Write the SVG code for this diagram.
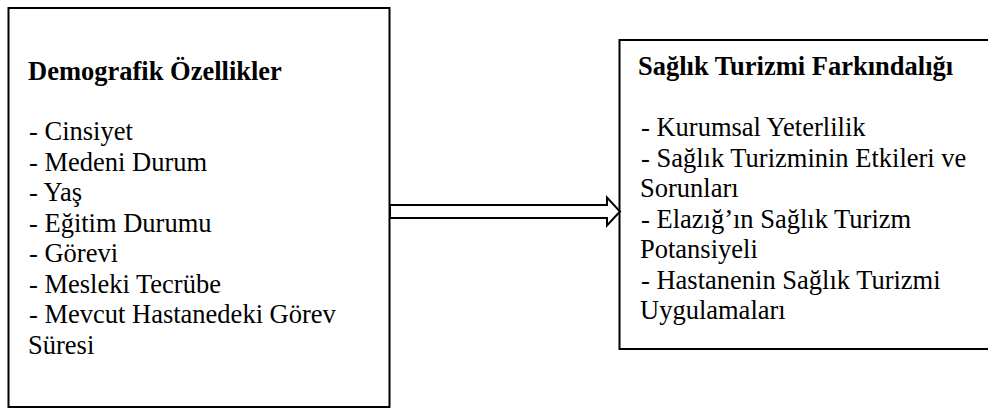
<svg xmlns="http://www.w3.org/2000/svg" width="988" height="411" viewBox="0 0 988 411">
<style>
.box{fill:#fff;stroke:#000;stroke-width:2}
.t{font-family:"Liberation Serif","Times New Roman",serif;font-size:26.5px;fill:#000}
.b{font-weight:bold}
.arrow{fill:#fff;stroke:#000;stroke-width:2;stroke-linejoin:miter}
</style>
<rect width="988" height="411" fill="#fff"/>
<g id="demografik">
<rect class="box" x="8.5" y="8" width="381" height="399"/>
<text class="t b" x="28" y="80">Demografik Özellikler</text>
<text class="t" x="29" y="140">- Cinsiyet</text>
<text class="t" x="29" y="170.5">- Medeni Durum</text>
<text class="t" x="29" y="201">- Yaş</text>
<text class="t" x="29" y="231.5">- Eğitim Durumu</text>
<text class="t" x="29" y="262">- Görevi</text>
<text class="t" x="29" y="292.5">- Mesleki Tecrübe</text>
<text class="t" x="29" y="323">- Mevcut Hastanedeki Görev</text>
<text class="t" x="28" y="353.5">Süresi</text>
</g>
<g id="farkindalik">
<rect class="box" x="619.5" y="40" width="380" height="309"/>
<text class="t b" x="638" y="75">Sağlık Turizmi Farkındalığı</text>
<text class="t" x="641" y="136">- Kurumsal Yeterlilik</text>
<text class="t" x="641" y="166.5">- Sağlık Turizminin Etkileri ve</text>
<text class="t" x="640" y="197">Sorunları</text>
<text class="t" x="641" y="227.5">- Elazığ’ın Sağlık Turizm</text>
<text class="t" x="640" y="258">Potansiyeli</text>
<text class="t" x="641" y="288.5">- Hastanenin Sağlık Turizmi</text>
<text class="t" x="640" y="319">Uygulamaları</text>
</g>
<g id="connectors">
<path class="arrow" d="M390,205 L607,205 L607,197.5 L620,211.5 L607,225.5 L607,218 L390,218 Z"/>
</g>
</svg>
